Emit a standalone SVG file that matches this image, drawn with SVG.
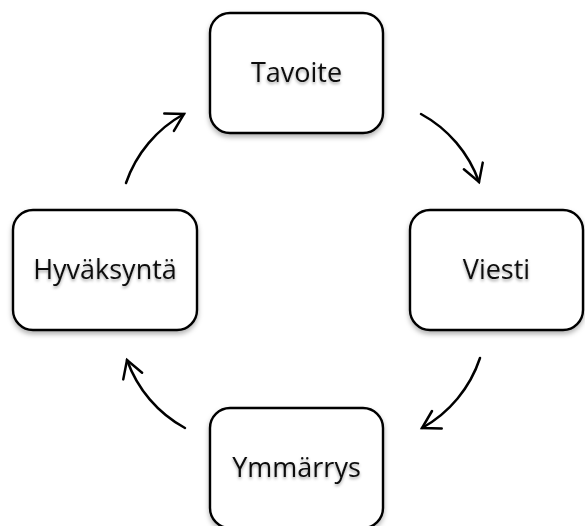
<svg xmlns="http://www.w3.org/2000/svg" width="585" height="526" viewBox="0 0 585 526">
  <style>
    .box { fill: #ffffff; stroke: #000000; stroke-width: 2.4; filter: url(#shadow); }
    .label { font-family: "Open Sans", "Liberation Sans", sans-serif; font-size: 27px; fill: #111111; text-anchor: middle; filter: url(#textShadow); }
    .arc { fill: none; stroke: #000000; stroke-width: 2.5; stroke-linecap: round; marker-end: url(#head); }
  </style>
  <defs>
    <filter id="shadow" x="-20%" y="-20%" width="140%" height="150%">
      <feDropShadow dx="0" dy="3" stdDeviation="2.5" flood-color="#000000" flood-opacity="0.3"/>
    </filter>
    <filter id="textShadow" x="-20%" y="-40%" width="140%" height="200%">
      <feDropShadow dx="0" dy="2" stdDeviation="1.5" flood-color="#000000" flood-opacity="0.35"/>
    </filter>
    <marker id="head" markerUnits="userSpaceOnUse" markerWidth="30" markerHeight="30" refX="0" refY="0" viewBox="-22 -15 30 30" orient="auto" overflow="visible">
      <path d="M-17,-10 L0,0 L-17,10" fill="none" stroke="#000000" stroke-width="2.5" stroke-linecap="round" stroke-linejoin="miter"/>
    </marker>
  </defs>

  <rect width="585" height="526" fill="#ffffff"/>

  <!-- connectors: clockwise arcs around the cycle -->
  <g id="connectors">
    <path class="arc" d="M421,114 A125,125 0 0 1 479,182"/>
    <path class="arc" d="M480,358 A125,125 0 0 1 422,428"/>
    <path class="arc" d="M185,428 A125,125 0 0 1 127,360"/>
    <path class="arc" d="M126,183 A125,125 0 0 1 184,114"/>
  </g>

  <g id="tavoite">
    <rect class="box" x="210" y="13" width="173" height="120" rx="20" ry="20"/>
    <text class="label" x="296.5" y="82">Tavoite</text>
  </g>

  <g id="viesti">
    <rect class="box" x="410" y="210" width="173" height="120" rx="20" ry="20"/>
    <text class="label" x="496.5" y="279">Viesti</text>
  </g>

  <g id="ymmarrys">
    <rect class="box" x="210" y="408" width="173" height="120" rx="20" ry="20"/>
    <text class="label" x="296.5" y="477">Ymmärrys</text>
  </g>

  <g id="hyvaksynta">
    <rect class="box" x="13" y="210" width="184" height="120" rx="20" ry="20"/>
    <text class="label" x="105" y="279">Hyväksyntä</text>
  </g>
</svg>
